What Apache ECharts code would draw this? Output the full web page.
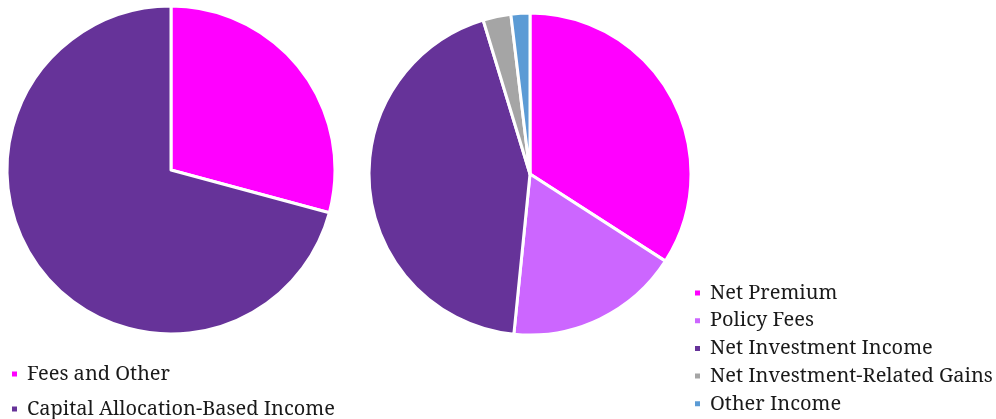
<!DOCTYPE html>
<html>
<head>
<meta charset="utf-8">
<script src="https://cdn.jsdelivr.net/npm/echarts@6/dist/echarts.min.js"></script>
<style>
html,body{margin:0;padding:0;background:#fff;}
#chart{width:996px;height:419px;}
</style>
</head>
<body>
<div id="chart"></div>
<script>
// Revenue mix, in percent of total
const segmentNames = ['Fees and Other', 'Capital Allocation-Based Income'];
const segmentValues = [29.2, 70.8];
const segmentColors = ['#FF00FF', '#663399'];

const sourceNames = ['Net Premium', 'Policy Fees', 'Net Investment Income', 'Net Investment-Related Gains', 'Other Income'];
const sourceValues = [34.1, 17.5, 43.7, 2.8, 1.9];
const sourceColors = ['#FF00FF', '#CC66FF', '#663399', '#A5A5A5', '#5B9BD5'];

const fontFamily = 'Noto Serif';

const chart = echarts.init(document.getElementById('chart'), null, { renderer: 'canvas' });

function toData(names, values, colors) {
  return names.map((n, i) => ({ name: n, value: values[i], itemStyle: { color: colors[i] } }));
}

const legendText = { fontFamily: fontFamily, fontSize: 20, color: '#1a1a1a', lineHeight: 20, padding: [0, 0, 0, 4] };

chart.setOption({
  animation: false,
  textStyle: { fontFamily: fontFamily },
  legend: [
    {
      data: segmentNames,
      orient: 'vertical',
      left: 10,
      top: 364,
      height: 60,
      padding: 0,
      icon: 'rect',
      itemWidth: 7,
      itemHeight: 7,
      itemGap: 15,
      textStyle: legendText,
      selectedMode: false
    },
    {
      data: sourceNames,
      orient: 'vertical',
      left: 693,
      top: 283,
      height: 140,
      padding: 0,
      icon: 'rect',
      itemWidth: 7,
      itemHeight: 7,
      itemGap: 7.7,
      textStyle: legendText,
      selectedMode: false
    }
  ],
  series: [
    {
      type: 'pie',
      center: [171, 170],
      radius: [0, 164],
      startAngle: 90,
      clockwise: true,
      label: { show: false },
      labelLine: { show: false },
      itemStyle: { borderColor: '#fff', borderWidth: 3 },
      emphasis: { disabled: true },
      data: toData(segmentNames, segmentValues, segmentColors)
    },
    {
      type: 'pie',
      center: [530, 174],
      radius: [0, 161],
      startAngle: 90,
      clockwise: true,
      label: { show: false },
      labelLine: { show: false },
      itemStyle: { borderColor: '#fff', borderWidth: 3 },
      emphasis: { disabled: true },
      data: toData(sourceNames, sourceValues, sourceColors)
    }
  ]
});
</script>
</body>
</html>
